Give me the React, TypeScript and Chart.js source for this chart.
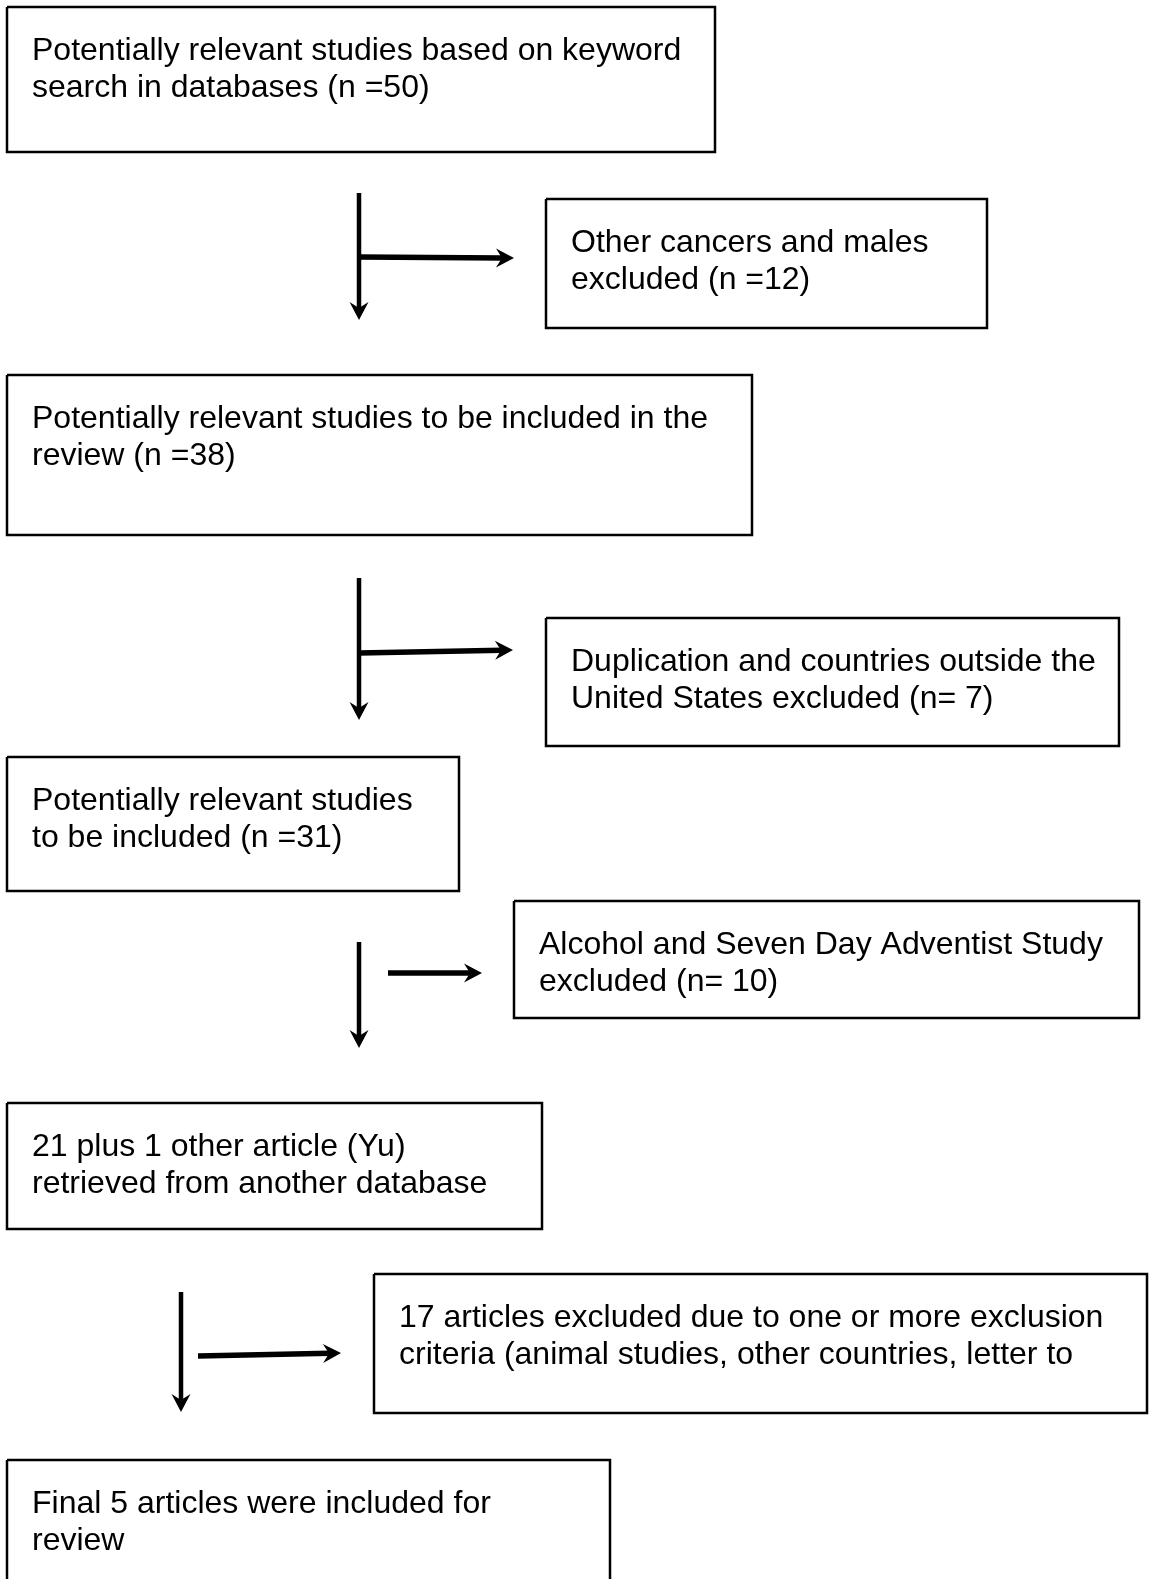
import React, { useEffect, useRef } from "react";
import { Chart, registerables } from "chart.js";

Chart.register(...registerables);

// Flowchart boxes (in page pixel units of the diagram scale)
const boxLeft = [7, 546, 7, 546, 7, 514, 7, 374, 7];
const boxTop = [7, 199, 375, 618, 757, 901, 1103, 1274, 1460];
const boxRight = [715, 987, 752, 1119, 459, 1139, 542, 1147, 610];
const boxBottom = [152, 328, 535, 746, 891, 1018, 1229, 1413, 1620];

const boxLines: string[][] = [
  ["Potentially relevant studies based on keyword", "search in databases (n =50)"],
  ["Other cancers and males", "excluded (n =12)"],
  ["Potentially relevant studies to be included in the", "review (n =38)"],
  ["Duplication and countries outside the", "United States excluded (n= 7)"],
  ["Potentially relevant studies", "to be included (n =31)"],
  ["Alcohol and Seven Day Adventist Study", "excluded (n= 10)"],
  ["21 plus 1 other article (Yu)", "retrieved from another database"],
  ["17 articles excluded due to one or more exclusion", "criteria (animal studies, other countries, letter to"],
  ["Final 5 articles were included for", "review"],
];

// Downward arrows
const downX = [359, 359, 359, 181];
const downFromY = [193, 578, 942, 1292];
const downToY = [320, 720, 1048, 1412];

// Rightward arrows
const rightFromX = [359, 359, 388, 198];
const rightFromY = [257, 653, 973, 1356];
const rightToX = [514, 513, 482, 341];
const rightToY = [258, 650, 973, 1353];

const W = 1149;
const H = 1579;

export default function App() {
  const ref = useRef<HTMLCanvasElement | null>(null);

  useEffect(() => {
    const canvas = ref.current;
    if (!canvas) return;

    const HEAD_L = 18;
    const HEAD_W = 9.5;
    const NOTCH = 6;

    const datasets: any[] = [];
    boxLeft.forEach((l, i) => {
      const t = boxTop[i], r = boxRight[i], b = boxBottom[i];
      datasets.push({
        data: [
          { x: l, y: t }, { x: r, y: t }, { x: r, y: b }, { x: l, y: b }, { x: l, y: t },
        ],
        showLine: true,
        borderColor: "#000",
        borderWidth: 2.5,
        pointRadius: 0,
        borderJoinStyle: "miter",
        tension: 0,
      });
    });
    downX.forEach((x, i) => {
      datasets.push({
        data: [{ x, y: downFromY[i] }, { x, y: downToY[i] - HEAD_L + NOTCH + 1 }],
        showLine: true,
        borderColor: "#000",
        borderWidth: 4.5,
        pointRadius: 0,
        borderCapStyle: "butt",
      });
    });
    rightFromX.forEach((x, i) => {
      const x2 = rightToX[i], y1 = rightFromY[i], y2 = rightToY[i];
      const len = Math.hypot(x2 - x, y2 - y1);
      const k = (len - HEAD_L + NOTCH + 1) / len;
      datasets.push({
        data: [{ x, y: y1 }, { x: x + (x2 - x) * k, y: y1 + (y2 - y1) * k }],
        showLine: true,
        borderColor: "#000",
        borderWidth: 5.5,
        pointRadius: 0,
        borderCapStyle: "butt",
      });
    });

    const drawHead = (ctx: CanvasRenderingContext2D, tx: number, ty: number, ang: number) => {
      const c = Math.cos(ang), s = Math.sin(ang);
      const pt = (a: number, b: number) => [tx + a * c - b * s, ty + a * s + b * c];
      const p1 = pt(-HEAD_L, -HEAD_W);
      const p2 = pt(-HEAD_L + NOTCH, 0);
      const p3 = pt(-HEAD_L, HEAD_W);
      ctx.beginPath();
      ctx.moveTo(tx, ty);
      ctx.lineTo(p1[0], p1[1]);
      ctx.lineTo(p2[0], p2[1]);
      ctx.lineTo(p3[0], p3[1]);
      ctx.closePath();
      ctx.fillStyle = "#000";
      ctx.fill();
    };

    const flowPlugin = {
      id: "flowText",
      afterDatasetsDraw(chart: any) {
        const ctx: CanvasRenderingContext2D = chart.ctx;
        const xs = chart.scales.x;
        const ys = chart.scales.y;
        ctx.save();
        // arrowheads
        downX.forEach((x, i) => {
          drawHead(ctx, xs.getPixelForValue(x), ys.getPixelForValue(downToY[i]), Math.PI / 2);
        });
        rightFromX.forEach((x, i) => {
          const x1 = xs.getPixelForValue(x), y1 = ys.getPixelForValue(rightFromY[i]);
          const x2 = xs.getPixelForValue(rightToX[i]), y2 = ys.getPixelForValue(rightToY[i]);
          drawHead(ctx, x2, y2, Math.atan2(y2 - y1, x2 - x1));
        });
        // text
        ctx.fillStyle = "#000";
        ctx.font = '32px "Liberation Sans", Arial, Helvetica, sans-serif';
        ctx.textBaseline = "alphabetic";
        ctx.textAlign = "left";
        boxLines.forEach((lines, i) => {
          const lx = xs.getPixelForValue(boxLeft[i] + 25);
          lines.forEach((line, j) => {
            const ly = ys.getPixelForValue(boxTop[i] + 53 + j * 37);
            ctx.fillText(line, lx, ly);
          });
        });
        ctx.restore();
      },
    };

    const chart = new Chart(canvas, {
      type: "scatter",
      data: { datasets },
      options: {
        animation: false,
        responsive: false,
        maintainAspectRatio: false,
        layout: { padding: 0 },
        plugins: { legend: { display: false }, tooltip: { enabled: false } },
        events: [],
        scales: {
          x: { type: "linear", min: 0, max: W, display: false },
          y: { type: "linear", min: 0, max: H, reverse: true, display: false },
        },
      },
      plugins: [flowPlugin],
    });
    return () => chart.destroy();
  }, []);

  return (
    <div style={{ position: "absolute", left: 0, top: 0, width: W, height: H, background: "#fff" }}>
      <canvas ref={ref} width={W} height={H} style={{ width: W, height: H, display: "block" }} />
    </div>
  );
}
